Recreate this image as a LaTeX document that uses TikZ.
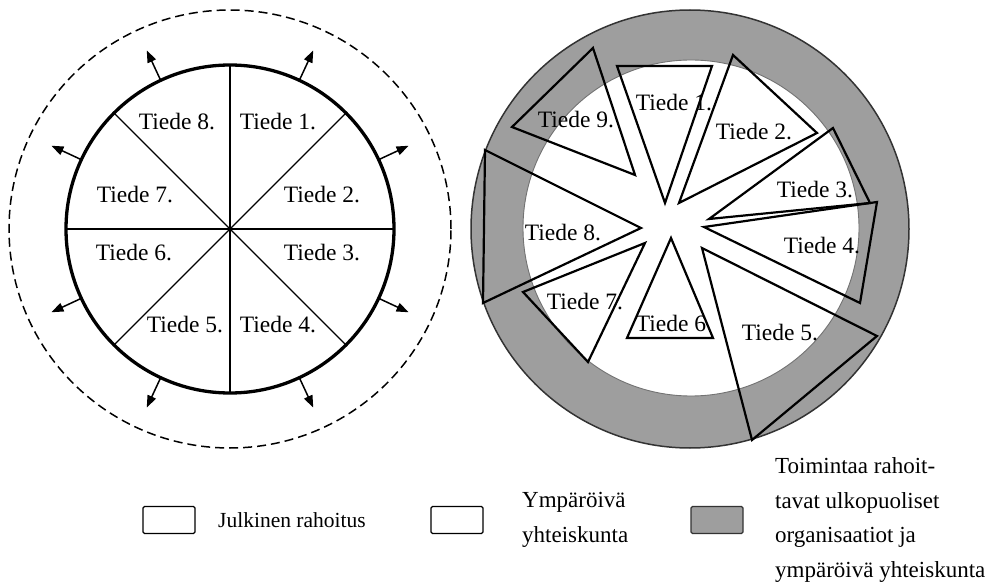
\documentclass[tikz,border=0pt]{standalone}
\usepackage{fontspec}
\setmainfont{Liberation Serif}
\usetikzlibrary{arrows.meta,calc}
\begin{document}
\begin{tikzpicture}[x=1pt,y=-1pt,
  lbl/.style={font=\fontsize{23.5}{34.5}\selectfont, inner sep=0pt},
  leg/.style={font=\fontsize{23}{34.5}\selectfont, inner sep=0pt, align=left},
  tri/.style={draw=black, line width=2.2pt, line join=miter},
  spoke/.style={line width=1.1pt},
  outarrow/.style={line width=1.5pt, -{Triangle[length=12pt,width=9pt]}},
  legbox/.style={draw, line width=1.3pt, rounded corners=1.5pt, minimum width=52pt, minimum height=27pt, inner sep=0pt},
  ringgray/.style={fill=black!38}
]
\useasboundingbox (0,0) rectangle (1005,588);

% ---------------- left diagram ----------------
\coordinate (L) at (230,229);
\draw[line width=1.5pt, dash pattern=on 9pt off 5pt] (L) circle[x radius=221pt, y radius=219pt];
\foreach \a in {0,45,90,135}{
  \coordinate (sa\a) at ($(L)+(\a:164)$);
  \coordinate (sb\a) at ($(L)+(\a+180:164)$);
  \draw[spoke] (sa\a) -- (sb\a);
}
\draw[line width=3.3pt] (L) circle[radius=164pt];
\fill (L) circle[radius=2.5pt];
\foreach \a in {25,65,115,155,205,245,295,335}{
  \coordinate (aa\a) at ($(L)+(-\a:165)$);
  \coordinate (ab\a) at ($(L)+(-\a:197)$);
  \draw[outarrow] (aa\a) -- (ab\a);
}
\node[lbl] (l8) at (177,122) {Tiede 8.};
\node[lbl] (l1) at (278,122) {Tiede 1.};
\node[lbl] (l7) at (135,195) {Tiede 7.};
\node[lbl] (l2) at (322,195) {Tiede 2.};
\node[lbl] (l6) at (134,253) {Tiede 6.};
\node[lbl] (l3) at (322,253) {Tiede 3.};
\node[lbl] (l5) at (185,325) {Tiede 5.};
\node[lbl] (l4) at (278,325) {Tiede 4.};

% ---------------- right diagram ----------------
\coordinate (R) at (690,229);
\coordinate (Ri) at (691,228);
\fill[ringgray, even odd rule] (R) circle[radius=219pt] (Ri) circle[radius=168pt];
\draw[black!80, line width=1.5pt] (R) circle[radius=219pt];
\draw[black!55, line width=0.9pt] (Ri) circle[radius=168pt];

\node[lbl] (r9) at (576,120) {Tiede 9.};
\node[lbl] (r1) at (674,103) {Tiede 1.};
\node[lbl] (r2) at (754,132) {Tiede 2.};
\node[lbl] (r3) at (815,190) {Tiede 3.};
\node[lbl] (r4) at (822,246) {Tiede 4.};
\node[lbl] (r5) at (780,333) {Tiede 5.};
\node[lbl] (r6) at (671,323) {Tiede 6};
\node[lbl] (r7) at (585,302) {Tiede 7.};
\node[lbl] (r8) at (563,233) {Tiede 8.};

\draw[tri] (617,66) -- (712,66) -- (665,203) -- cycle;
\draw[tri] (733,55) -- (817,133) -- (679,203) -- cycle;
\draw[tri] (709,219) -- (833,128) -- (870,203) -- cycle;
\draw[tri] (704,227) -- (877,202) -- (860,303) -- cycle;
\draw[tri] (702,248) -- (877,336) -- (752,440) -- cycle;
\draw[tri] (671,238) -- (627,338) -- (713,338) -- cycle;
\draw[tri] (645,243) -- (523,292) -- (588,362) -- cycle;
\draw[tri] (485,150) -- (641,228) -- (483,303) -- cycle;
\draw[tri] (593,48) -- (512,127) -- (635,175) -- cycle;

% ---------------- legend ----------------
\node[legbox] (k1) at (169,520) {};
\node[leg, anchor=west, font=\fontsize{21.5}{30}\selectfont] (k1t) at (218,520) {Julkinen rahoitus};
\node[legbox] (k2) at (457,520) {};
\node[leg, anchor=west] (k2t) at (522,520) {Ympäröivä\\yhteiskunta};
\node[legbox, ringgray, draw=black!80] (k3) at (717,520) {};
\node[leg, anchor=west] (k3t) at (775,520) {Toimintaa rahoit-\\tavat ulkopuoliset\\organisaatiot ja\\ympäröivä yhteiskunta};
\end{tikzpicture}
\end{document}
